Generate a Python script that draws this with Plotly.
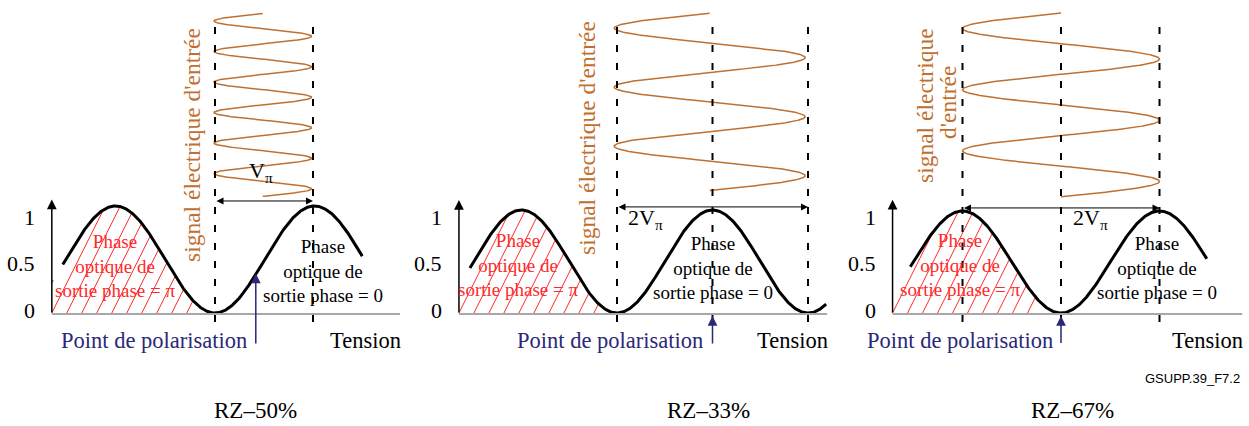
import numpy as np
import plotly.graph_objects as go

W, H = 1249, 426

# ------------------------------------------------------------------ data
panel_titles = ["RZ–50%", "RZ–33%", "RZ–67%"]
# all voltages in units of Vπ, measured from the transmission minimum of each panel
curve_start = [-1.53, -1.54, -1.53]
curve_end = [1.48, 2.19, 1.48]
axis_at = [-1.64, -1.655, -1.71]
axis_top = [1.06, 1.097, 1.11]
baseline_end = [1.86, 2.20, 1.84]
hatch_end = [-0.25, -0.21, -0.28]
dashed_at = [[0.0, 0.985], [0.0, 1.0, 2.0], [-1.0, 0.0, 1.0]]
# electrical drive signal (drawn vertically above the transfer curve)
drive_centre = [0.48, 0.97, 0.0]
drive_amplitude = [0.49, 1.0, 1.0]
drive_cycles = [6, 3, 3]
drive_top = [2.80, 2.91, 2.94]
drive_bottom = [1.09, 1.19, 1.14]
swing_from = [0.0, 0.0, -1.0]
swing_to = [0.985, 2.0, 1.0]
swing_level = [1.047, 1.03, 1.03]
swing_labels = ["V<sub>π</sub>", "2V<sub>π</sub>", "2V<sub>π</sub>"]
bias_at = [0.41, 1.0, 0.0]
bias_tip = [0.37, -0.03, -0.03]
bias_tail = [-0.30, -0.31, -0.31]
tick_labels = ["0", "0.5", "1"]
signal_lines = [["signal électrique d'entrée"], ["signal électrique d'entrée"],
                ["signal électrique", "d'entrée"]]
red_label = "Phase<br>optique de<br>sortie phase = π"
black_label = "Phase<br>optique de<br>sortie phase = 0"

# ------------------------------------------------------------------ layout (pixel anchors)
px0 = [215, 617, 1061]     # pixel of the transmission minimum (0 Vπ)
sx = [99.5, 95.5, 98.5]    # pixels per Vπ
py0 = [313, 313, 313]      # pixel of transmission 0
sy = [107, 103, 102]       # pixels per unit transmission
tick_py = [310, 263, 217]
rot_pos = [[(192, 145)], [(587, 138)], [(925, 106), (948, 103)]]
swing_pos = [(261, 172), (645, 219), (1090, 219)]
red_pos = [(115, 266), (518, 265), (960, 265)]
black_pos = [(323, 271), (713, 268), (1157, 268)]
polar_pos = [(154, 340), (610, 340), (960, 340)]
tension_pos = [(365, 340), (792, 340), (1207, 340)]
title_pos = [(255, 410), (708, 410), (1072, 410)]

SERIF = "Liberation Serif, Times New Roman, Times, serif"
SANS = "Liberation Sans, Arial, sans-serif"
ORANGE = "#BF7030"
RED = "#FF2A2A"
NAVY = "#2B2878"


def ux(i, px):
    return (px - px0[i]) / sx[i]


def ty(i, py):
    return (py0[i] - py) / sy[i]


def transfer(u):
    return (1 - np.cos(np.pi * u)) / 2


fig = go.Figure()
ann = []
shapes = []

for i in range(3):
    xr = f"x{i + 1}" if i else "x"
    yr = f"y{i + 1}" if i else "y"

    # hatched region (red "/" lines under the first hump)
    hx, hy = [], []
    step = 15 / sx[i]
    slope = 2.0 * sx[i] / sy[i]            # dT/du for a 2:1 pixel slope
    ub = axis_at[i] - 3 * step
    T = np.linspace(0, 1.3, 1300)
    while ub <= hatch_end[i] + 1e-9:
        u = ub + T / slope
        inside = (u >= axis_at[i]) & (T <= transfer(u))
        idx = np.where(inside)[0]
        if idx.size:
            a = idx[0]
            b = a
            while b + 1 < len(T) and inside[b + 1]:
                b += 1
            hx += [u[a], u[b], None]
            hy += [T[a], T[b], None]
        ub += step
    fig.add_trace(go.Scatter(x=hx, y=hy, mode="lines", xaxis=xr, yaxis=yr,
                             line=dict(color=RED, width=1), hoverinfo="skip"))

    # baseline
    shapes.append(dict(type="line", xref=xr, yref=yr, x0=axis_at[i], x1=baseline_end[i],
                       y0=-0.01, y1=-0.01, line=dict(color="#A8A8A8", width=2)))
    # dashed verticals
    for d in dashed_at[i]:
        shapes.append(dict(type="line", xref=xr, yref=yr, x0=d, x1=d,
                           y0=ty(i, 322), y1=ty(i, 16),
                           line=dict(color="black", width=2, dash="7px,11px")))

    # transfer curve
    u = np.linspace(curve_start[i], curve_end[i], 400)
    fig.add_trace(go.Scatter(x=u, y=transfer(u), mode="lines", xaxis=xr, yaxis=yr,
                             line=dict(color="black", width=3), hoverinfo="skip"))

    # drive signal
    Tv = np.linspace(drive_top[i], drive_bottom[i], 1200)
    phase = 2 * np.pi * drive_cycles[i] * (drive_top[i] - Tv) / (drive_top[i] - drive_bottom[i])
    uv = drive_centre[i] - drive_amplitude[i] * np.sin(phase)
    fig.add_trace(go.Scatter(x=uv, y=Tv, mode="lines", xaxis=xr, yaxis=yr,
                             line=dict(color=ORANGE, width=1.5), hoverinfo="skip"))

    # y axis arrow
    ann.append(dict(xref=xr, yref=yr, axref=xr, ayref=yr, x=axis_at[i], y=axis_top[i],
                    ax=axis_at[i], ay=-0.01, text="", showarrow=True, arrowhead=2,
                    arrowsize=1.3, arrowwidth=1.5, arrowcolor="black"))
    # swing arrow
    ann.append(dict(xref=xr, yref=yr, axref=xr, ayref=yr, x=swing_to[i], y=swing_level[i],
                    ax=swing_from[i], ay=swing_level[i], text="", showarrow=True,
                    arrowhead=2, arrowside="end+start", arrowsize=1.4, arrowwidth=1,
                    arrowcolor="black"))
    # bias arrow
    ann.append(dict(xref=xr, yref=yr, axref=xr, ayref=yr, x=bias_at[i], y=bias_tip[i],
                    ax=bias_at[i], ay=bias_tail[i], text="", showarrow=True,
                    arrowhead=2, arrowsize=1.3, arrowwidth=1.5, arrowcolor=NAVY))

    # tick labels
    for lab, py in zip(tick_labels, tick_py):
        ann.append(dict(xref=xr, yref=yr, x=ux(i, px0[i] + sx[i] * axis_at[i] - 15), y=ty(i, py),
                        text=lab, showarrow=False, xanchor="right", yanchor="middle",
                        font=dict(family=SERIF, size=22, color="black")))

    def txt(pos, text, size, color, **kw):
        ann.append(dict(xref=xr, yref=yr, x=ux(i, pos[0]), y=ty(i, pos[1]), text=text,
                        showarrow=False, xanchor="center", yanchor="middle",
                        font=dict(family=SERIF, size=size, color=color), **kw))

    for line, pos in zip(signal_lines[i], rot_pos[i]):
        txt(pos, line, 23.5, ORANGE, textangle=-90)
    txt(swing_pos[i], swing_labels[i], 22, "black")
    txt(red_pos[i], red_label, 19, RED)
    txt(black_pos[i], black_label, 19, "black")
    txt(polar_pos[i], "Point de polarisation", 22.5, NAVY)
    txt(tension_pos[i], "Tension", 22.5, "black")
    txt(title_pos[i], panel_titles[i], 23, "black")

ann.append(dict(xref="paper", yref="paper", x=1242 / W, y=1 - 378 / H, text="GSUPP.39_F7.2",
                showarrow=False, xanchor="right", yanchor="middle",
                font=dict(family=SANS, size=13, color="black")))

layout = dict(width=W, height=H, margin=dict(l=0, r=0, t=0, b=0),
              paper_bgcolor="white", plot_bgcolor="rgba(0,0,0,0)", showlegend=False,
              font=dict(family=SERIF),
              annotations=ann, shapes=shapes)
for i in range(3):
    k = str(i + 1) if i else ""
    layout["xaxis" + k] = dict(domain=[0, 1], range=[ux(i, 0), ux(i, W)], visible=False,
                               fixedrange=True, anchor="y" + k)
    layout["yaxis" + k] = dict(domain=[0, 1], range=[ty(i, H), ty(i, 0)], visible=False,
                               fixedrange=True, anchor="x" + k)
fig.update_layout(**layout)
fig.write_html("out.html", config={"displayModeBar": False},
               post_script="document.body.style.margin='0';document.body.style.overflow='hidden';")
